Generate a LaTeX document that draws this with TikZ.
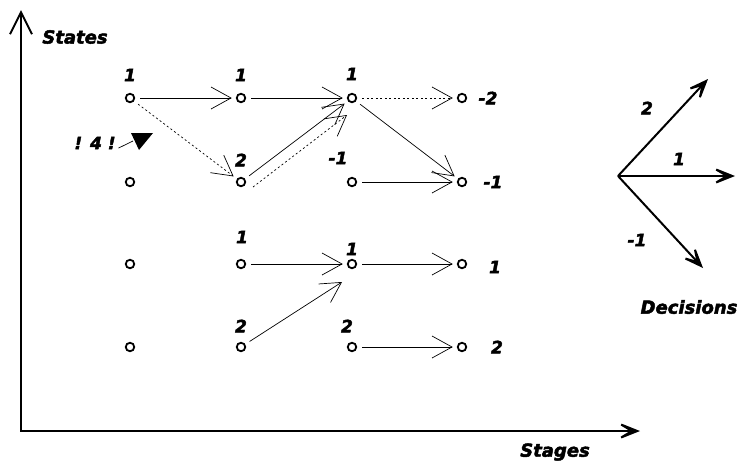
\documentclass[tikz,border=0pt]{standalone}
\usepackage{fontspec}
\setmainfont{DejaVu Sans}[FakeBold=2.5]
\usetikzlibrary{arrows.meta,positioning}

\begin{document}
\begin{tikzpicture}[
    x=1pt, y=-1pt,
    state/.style={circle, draw, line width=1.8pt, minimum size=8.5pt, inner sep=0pt, outer sep=3.5pt},
    num/.style={font=\fontsize{17}{19}\selectfont\bfseries\itshape, inner sep=0pt},
    tag/.style={font=\fontsize{18}{20}\selectfont\bfseries\itshape, inner sep=0pt},
    move/.style={-{Straight Barb[length=20pt,width=22pt]}, line width=0.7pt, shorten <=2.5pt, shorten >=1.5pt},
    trial/.style={move, dash pattern=on 2pt off 2.5pt},
    axis/.style={line width=2pt},
    choice/.style={line width=2pt, -{Stealth[length=30pt,width=24pt,inset=20pt]}}
]
    \useasboundingbox (0,0) rectangle (738,461);

    % axes
    \coordinate (origin) at (21,431);
    \coordinate (ytip) at (21,10);
    \coordinate (xtip) at (640,431);
    \draw[axis, {Straight Barb[length=22pt,width=22pt]}-{Stealth[length=30pt,width=24pt,inset=20pt]}] (ytip) -- (origin) -- (xtip);
    \node[tag] (states) at (75,37) {States};
    \node[tag] (stages) at (555,452) {Stages};

    % grid of states
    \foreach \c/\x in {1/130,2/241,3/352,4/462}
        \foreach \r/\y in {a/98,b/182,c/264,d/347}
            \node[state] (s\c\r) at (\x,\y) {};

    % state values
    \node[num] (v1a) at (130,75) {1};
    \node[num] (v2a) at (241,75) {1};
    \node[num] (v3a) at (352,74) {1};
    \node[num] (v4a) at (488,98) {-2};
    \node[num] (v2b) at (241,160) {2};
    \node[num] (v3b) at (338,158) {-1};
    \node[num] (v4b) at (493,182) {-1};
    \node[num] (v2c) at (242,237) {1};
    \node[num] (v3c) at (352,249) {1};
    \node[num] (v4c) at (495,267) {1};
    \node[num] (v2d) at (241,326) {2};
    \node[num] (v3d) at (347,326) {2};
    \node[num] (v4d) at (497,347) {2};

    % transitions
    \draw[move] (s1a) -- (s2a);
    \draw[move] (s2a) -- (s3a);
    \draw[move] (s2b) -- (s3a);
    \draw[move] (s3a) -- (s4b);
    \draw[move] (s3b) -- (s4b);
    \draw[move] (s2c) -- (s3c);
    \draw[move] (s3c) -- (s4c);
    \coordinate (s3cin) at ([xshift=-10pt,yshift=-18pt]s3c.center);
    \draw[move, shorten >=0pt] (s2d) -- (s3cin);
    \draw[move] (s3d) -- (s4d);

    % tried path
    \draw[trial] (s1a) -- (s2b);
    \draw[trial] (s3a) -- (s4a);
    \coordinate (s2bout) at ([xshift=12pt,yshift=-5pt]s2b.center);
    \coordinate (s3ain) at ([xshift=-5pt,yshift=-17pt]s3a.center);
    \draw[trial, shorten <=0pt, shorten >=0pt] (s2bout) -- (s3ain);

    % marker
    \node[num] (l4) at (95,143) {! 4 !};
    \coordinate (mark4) at (133,141);
    \fill (131,133) -- (153,133) -- (139,150) -- cycle;
    \draw[line width=0.7pt, shorten <=3pt] (l4.south east) -- (mark4);

    % decisions
    \coordinate (dorigin) at (618,176);
    \coordinate (dup) at (708,79);
    \coordinate (dmid) at (735,176);
    \coordinate (ddown) at (703,268);
    \draw[choice] (dorigin) -- (dup);
    \draw[choice] (dorigin) -- (dmid);
    \draw[choice] (dorigin) -- (ddown);
    \node[num] (dv2) at (647,108) {2};
    \node[num] (dv1) at (679,159) {1};
    \node[num] (dvm1) at (637,240) {-1};
    \node[tag] (decisions) at (689,307) {Decisions};
\end{tikzpicture}
\end{document}
